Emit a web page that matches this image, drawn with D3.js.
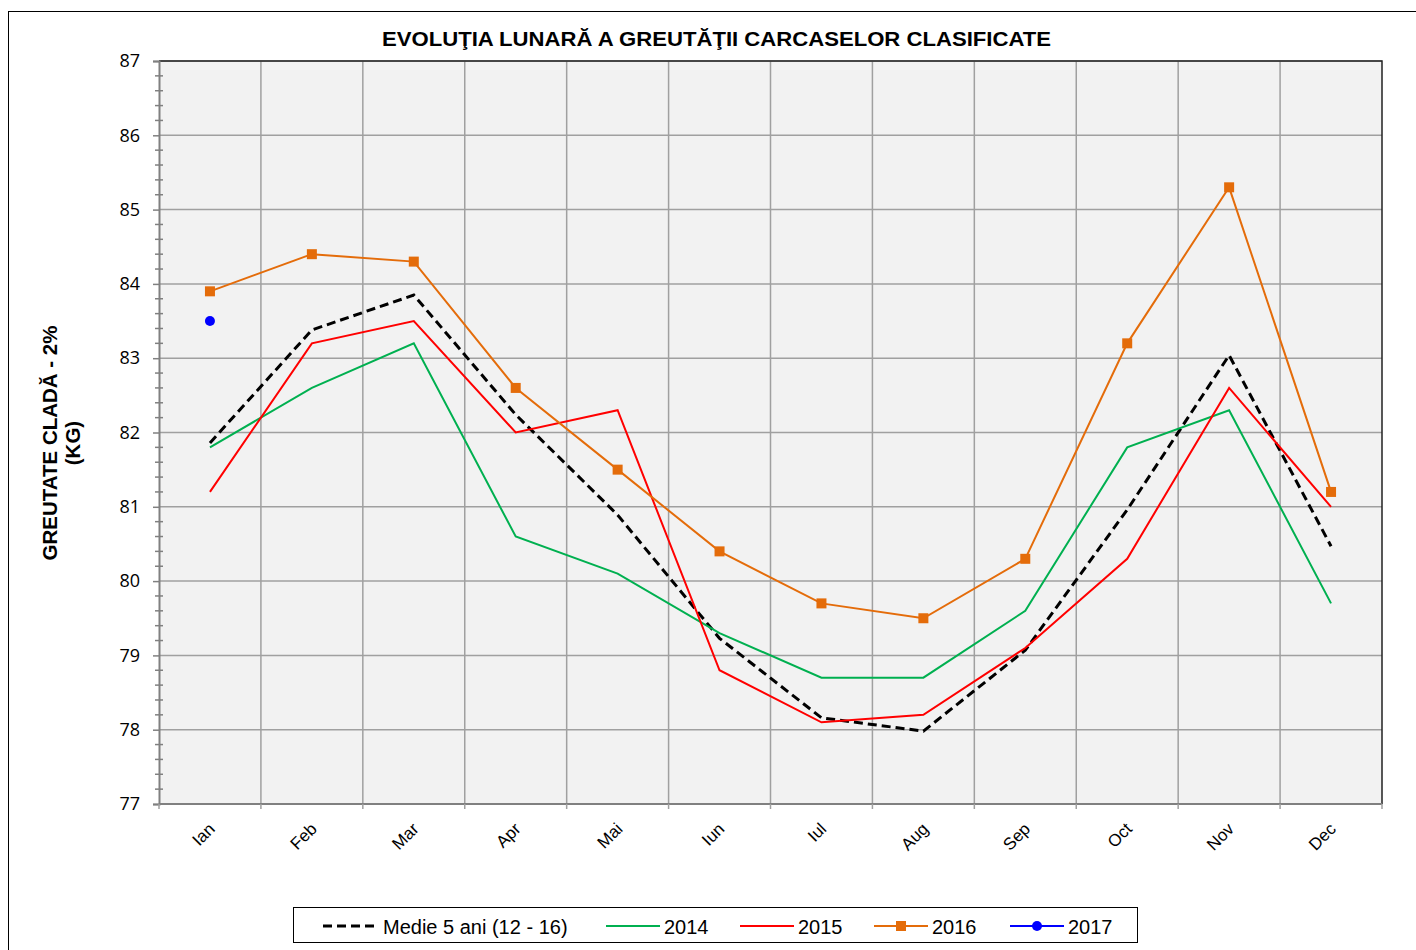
<!DOCTYPE html>
<html>
<head>
<meta charset="utf-8">
<script src="https://cdn.jsdelivr.net/npm/d3@7"></script>
<style>
  body { margin: 0; background: #fff; }
  svg { display: block; font-family: "Liberation Sans", Arial, sans-serif; }
</style>
</head>
<body>
<svg id="chart" width="1416" height="950"></svg>
<script>
const months = ["Ian", "Feb", "Mar", "Apr", "Mai", "Iun", "Iul", "Aug", "Sep", "Oct", "Nov", "Dec"]
const medie = [81.86, 83.38, 83.85, 82.24, 80.89, 79.23, 78.16, 77.98, 79.07, 80.96, 83.04, 80.47]
const y2014 = [81.8, 82.6, 83.2, 80.6, 80.1, 79.3, 78.7, 78.7, 79.6, 81.8, 82.3, 79.7]
const y2015 = [81.2, 83.2, 83.5, 82.0, 82.3, 78.8, 78.1, 78.2, 79.1, 80.3, 82.6, 81.0]
const y2016 = [83.9, 84.4, 84.3, 82.6, 81.5, 80.4, 79.7, 79.5, 80.3, 83.2, 85.3, 81.2]
const y2017 = [83.5]
const yTicks = [77, 78, 79, 80, 81, 82, 83, 84, 85, 86, 87]

const series = [
    {name: "Medie 5 ani (12 - 16)", values: medie, color: "#000000", width: 3, dash: "9,5", marker: null},
    {name: "2014", values: y2014, color: "#00b050", width: 2, dash: null, marker: null},
    {name: "2015", values: y2015, color: "#ff0000", width: 2, dash: null, marker: null},
    {name: "2016", values: y2016, color: "#e46c0a", width: 2, dash: null, marker: "square"},
    {name: "2017", values: y2017, color: "#0000ff", width: 2, dash: null, marker: "circle"}
]

const svg = d3.select("#chart")
const margin = {top: 61, left: 159, right: 1382, bottom: 804}

// outer chart border
svg.append("rect")
    .attr("x", 8.5).attr("y", 11.5)
    .attr("width", 1430).attr("height", 960)
    .attr("fill", "none").attr("stroke", "#000").attr("stroke-width", 1)

const xScale = d3.scaleBand()
    .domain(months)
    .range([margin.left, margin.right])
    .padding(0)

const yScale = d3.scaleLinear()
    .domain([77, 87])
    .range([margin.bottom, margin.top])

// plot background
svg.append("rect")
    .attr("x", margin.left).attr("y", margin.top)
    .attr("width", margin.right - margin.left)
    .attr("height", margin.bottom - margin.top)
    .attr("fill", "#f2f2f2")

// horizontal grid
svg.append("g")
    .selectAll("line")
    .data(yTicks)
    .join("line")
    .attr("x1", margin.left).attr("x2", margin.right)
    .attr("y1", d => yScale(d)).attr("y2", d => yScale(d))
    .attr("stroke", "#a0a0a0").attr("stroke-width", 1.5)

// vertical grid at category boundaries
svg.append("g")
    .selectAll("line")
    .data(months.slice(1))
    .join("line")
    .attr("x1", d => xScale(d)).attr("x2", d => xScale(d))
    .attr("y1", margin.top).attr("y2", margin.bottom)
    .attr("stroke", "#a0a0a0").attr("stroke-width", 1.5)

// top and right border
svg.append("path")
    .attr("d", `M${margin.left},${margin.top}H${margin.right}V${margin.bottom}`)
    .attr("fill", "none").attr("stroke", "#222").attr("stroke-width", 1.5)

// y axis
const yAxis = d3.axisLeft(yScale)
    .tickValues(yTicks)
    .tickSize(6)
    .tickFormat(d3.format("d"))
const yAxisGroup = svg.append("g")
    .attr("transform", `translate(${margin.left},0)`)
    .call(yAxis)
yAxisGroup.select(".domain").attr("stroke", "#808080").attr("stroke-width", 2)
yAxisGroup.selectAll(".tick line").attr("stroke", "#808080").attr("stroke-width", 1.5)
yAxisGroup.selectAll(".tick text")
    .attr("x", -19)
    .attr("font-family", "'Open Sans', 'Noto Sans', sans-serif")
    .attr("font-size", 18)
    .attr("fill", "#000")

// minor ticks every 0.2
const minorTicks = d3.range(77, 87.001, 0.2).filter(v => Math.abs(v - Math.round(v)) > 0.01)
svg.append("g")
    .selectAll("line")
    .data(minorTicks)
    .join("line")
    .attr("x1", margin.left - 4).attr("x2", margin.left + 4)
    .attr("y1", d => yScale(d)).attr("y2", d => yScale(d))
    .attr("stroke", "#808080").attr("stroke-width", 1.5)

// x axis
const xAxisGroup = svg.append("g")
    .attr("transform", `translate(0,${margin.bottom})`)
xAxisGroup.append("line")
    .attr("x1", margin.left).attr("x2", margin.right)
    .attr("stroke", "#808080").attr("stroke-width", 2)
xAxisGroup.selectAll(".xtick")
    .data(months.concat(["end"]))
    .join("line")
    .attr("class", "xtick")
    .attr("x1", (d, i) => margin.left + i * xScale.bandwidth())
    .attr("x2", (d, i) => margin.left + i * xScale.bandwidth())
    .attr("y1", 0).attr("y2", 5)
    .attr("stroke", "#a0a0a0").attr("stroke-width", 1.5)
xAxisGroup.selectAll(".xlabel")
    .data(months)
    .join("text")
    .attr("class", "xlabel")
    .attr("transform", d => `translate(${xScale(d) + xScale.bandwidth() / 2 + 6},${26}) rotate(-45)`)
    .attr("text-anchor", "end")
    .attr("font-size", 17)
    .attr("fill", "#000")
    .text(d => d)

// title
svg.append("text")
    .attr("x", 382).attr("y", 46)
    .attr("font-size", 21)
    .attr("font-weight", "bold")
    .attr("textLength", 669)
    .attr("lengthAdjust", "spacingAndGlyphs")
    .text("EVOLUŢIA LUNARĂ A GREUTĂŢII CARCASELOR CLASIFICATE")

// y axis title
const yTitle = svg.append("text")
    .attr("transform", "translate(57,443) rotate(-90)")
    .attr("text-anchor", "middle")
    .attr("font-size", 20.5)
    .attr("font-weight", "bold")
yTitle.append("tspan").attr("x", 0).attr("dy", 0).text("GREUTATE CLADĂ - 2%")
yTitle.append("tspan").attr("x", 0).attr("dy", 23).text("(KG)")

// lines
const line = d3.line()
    .x((d, i) => xScale(months[i]) + xScale.bandwidth() / 2)
    .y(d => yScale(d))

series.forEach(s => {
    if (s.values.length > 1) {
        svg.append("path")
            .datum(s.values)
            .attr("d", line)
            .attr("fill", "none")
            .attr("stroke", s.color)
            .attr("stroke-width", s.width)
            .attr("stroke-dasharray", s.dash)
    }
    if (s.marker === "square") {
        svg.append("g").selectAll("rect")
            .data(s.values)
            .join("rect")
            .attr("x", (d, i) => xScale(months[i]) + xScale.bandwidth() / 2 - 5)
            .attr("y", d => yScale(d) - 5)
            .attr("width", 10).attr("height", 10)
            .attr("fill", s.color)
    } else if (s.marker === "circle") {
        svg.append("g").selectAll("circle")
            .data(s.values)
            .join("circle")
            .attr("cx", (d, i) => xScale(months[i]) + xScale.bandwidth() / 2)
            .attr("cy", d => yScale(d))
            .attr("r", 5)
            .attr("fill", s.color)
    }
})

// legend
const legend = svg.append("g")
legend.append("rect")
    .attr("x", 293.5).attr("y", 907.5)
    .attr("width", 844).attr("height", 35)
    .attr("fill", "#fff").attr("stroke", "#000").attr("stroke-width", 1)

const legendX = [323, 606, 740, 874, 1010]
series.forEach((s, i) => {
    const g = legend.append("g").attr("transform", `translate(${legendX[i]},926)`)
    g.append("line")
        .attr("x1", 0).attr("x2", 54)
        .attr("stroke", s.color)
        .attr("stroke-width", s.width)
        .attr("stroke-dasharray", s.dash)
    if (s.marker === "square") {
        g.append("rect").attr("x", 22).attr("y", -5).attr("width", 10).attr("height", 10).attr("fill", s.color)
    } else if (s.marker === "circle") {
        g.append("circle").attr("cx", 27).attr("r", 5).attr("fill", s.color)
    }
    g.append("text")
        .attr("x", i === 0 ? 60 : 58)
        .attr("y", 8)
        .attr("font-size", 20)
        .attr("fill", "#000")
        .text(s.name)
})
</script>
</body>
</html>
